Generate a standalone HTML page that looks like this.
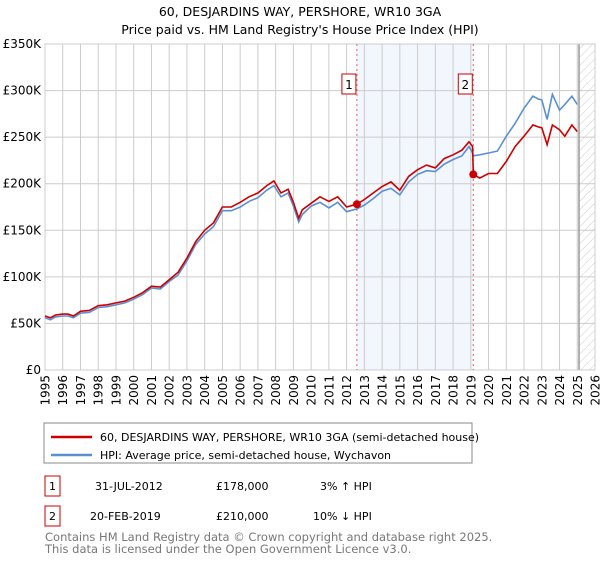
<!DOCTYPE html>
<html><head><meta charset="utf-8"><style>
body{margin:0;background:#fff;font-family:"Liberation Sans","DejaVu Sans",sans-serif;}
svg text{font-family:"DejaVu Sans","Liberation Sans",sans-serif;}
</style></head><body>
<svg id="chart" width="600" height="560" xmlns="http://www.w3.org/2000/svg">
<defs><pattern id="hatch" width="6" height="6" patternUnits="userSpaceOnUse" patternTransform="rotate(45)"><line x1="0" y1="0" x2="0" y2="6" stroke="#ccc" stroke-width="1"/></pattern></defs>
<text x="300" y="16" text-anchor="middle" font-size="12.5">60, DESJARDINS WAY, PERSHORE, WR10 3GA</text>
<text x="300" y="34" text-anchor="middle" font-size="12.5">Price paid vs. HM Land Registry's House Price Index (HPI)</text>
<g id="grid"></g><g id="marks"></g>
<rect x="44" y="423" width="428" height="40" fill="#fff" stroke="#888"/>
<line x1="51" y1="437" x2="92" y2="437" stroke="#cc0000" stroke-width="2.5"/>
<text x="100" y="441" font-size="11">60, DESJARDINS WAY, PERSHORE, WR10 3GA (semi-detached house)</text>
<line x1="51" y1="455" x2="92" y2="455" stroke="#5b8fd4" stroke-width="2.5"/>
<text x="100" y="459" font-size="11">HPI: Average price, semi-detached house, Wychavon</text>
<g font-size="11">
<rect x="45" y="476" width="15" height="20" fill="#fff" stroke="#cc0000"/><text x="52.5" y="490" text-anchor="middle">1</text>
<text x="95" y="490">31-JUL-2012</text><text x="216" y="490">£178,000</text><text x="320" y="490">3% ↑ HPI</text></g>
<g font-size="11">
<rect x="45" y="506" width="15" height="20" fill="#fff" stroke="#cc0000"/><text x="52.5" y="520" text-anchor="middle">2</text>
<text x="90" y="520">20-FEB-2019</text><text x="216" y="520">£210,000</text><text x="313" y="520">10% ↓ HPI</text></g>
<text x="45" y="541" font-size="11.5" fill="#777">Contains HM Land Registry data © Crown copyright and database right 2025.</text>
<text x="45" y="553" font-size="11.5" fill="#777">This data is licensed under the Open Government Licence v3.0.</text>
</svg>
<script>
const years=[1995,1995.3,1995.6,1996,1996.3,1996.6,1997,1997.5,1998,1998.5,1999,1999.5,2000,2000.5,2001,2001.5,2002,2002.5,2003,2003.5,2004,2004.5,2005,2005.5,2006,2006.5,2007,2007.5,2007.9,2008.3,2008.7,2009,2009.3,2009.5,2010,2010.5,2011,2011.5,2012,2012.58,2013,2013.5,2014,2014.5,2015,2015.5,2016,2016.5,2017,2017.5,2018,2018.5,2018.9,2019.1,2019.14,2019.5,2020,2020.5,2021,2021.5,2022,2022.5,2022.8,2023,2023.3,2023.6,2024,2024.3,2024.7,2025];
const priceSeries=[58,56,59,60,60,58,63,64,69,70,72,74,78,83,90,89,97,105,120,138,150,158,175,175,180,186,190,198,203,190,194,180,163,172,179,186,181,186,175,178,183,190,197,202,193,208,215,220,217,227,231,236,245,240,210,206,211,211,224,240,251,263,261,260,242,263,258,251,263,256];
const hpiSeries=[56,54,57,58,58,56,61,62,67,68,70,72,76,81,88,87,95,102,117,135,146,154,171,171,175,181,185,193,198,186,190,176,159,167,176,180,174,180,170,173,177,184,192,195,188,202,210,214,213,221,226,230,240,233,230,231,233,235,251,265,281,294,291,290,269,296,279,285,294,285];
const yTicks=[0,50,100,150,200,250,300,350];
const yTickLabels=["£0","£50K","£100K","£150K","£200K","£250K","£300K","£350K"];
const xTicks=[1995,1996,1997,1998,1999,2000,2001,2002,2003,2004,2005,2006,2007,2008,2009,2010,2011,2012,2013,2014,2015,2016,2017,2018,2019,2020,2021,2022,2023,2024,2025,2026];
const saleYears=[2012.58,2019.14];
const salePrices=[178,210];
const saleLabels=["1","2"];
const forecastStart=2025.1;
const L=45,R=595,T=44,B=370,X0=1995,X1=2026,YMAX=350;
const sx=v=>L+(v-X0)/(X1-X0)*(R-L);
const sy=v=>B-v/YMAX*(B-T);
const NS="http://www.w3.org/2000/svg";
function mk(tag,attrs,parent,txt){const e=document.createElementNS(NS,tag);for(const k in attrs)e.setAttribute(k,attrs[k]);if(txt!==undefined)e.textContent=txt;parent.appendChild(e);return e;}
const g=document.getElementById('grid'),m=document.getElementById('marks');
const shade=mk('rect',{x:sx(saleYears[0]),y:T,width:sx(saleYears[1])-sx(saleYears[0]),height:B-T,fill:'#f2f6fd'},g);


yTicks.forEach((t,i)=>{mk('line',{x1:L,x2:R,y1:sy(t),y2:sy(t),stroke:'#ccc'},g);
const tl=mk('text',{x:L-4,y:sy(t)+4,'text-anchor':'end','font-size':12},g,yTickLabels[i]);

});
xTicks.forEach(t=>{mk('line',{x1:sx(t),x2:sx(t),y1:T,y2:B,stroke:'#ccc'},g);
const tl=mk('text',{transform:`translate(${sx(t)+4.5},${B+5}) rotate(-90)`,'text-anchor':'end','font-size':12},g,String(t));

});
const hatch=mk('rect',{x:sx(forecastStart),y:T,width:R-sx(forecastStart),height:B-T,fill:'url(#hatch)'},g);


mk('line',{x1:sx(forecastStart),x2:sx(forecastStart),y1:T,y2:B,stroke:'#999','stroke-width':1.5},g);
mk('rect',{x:L,y:T,width:R-L,height:B-T,fill:'none',stroke:'#ccc'},g);
saleYears.forEach((yr,i)=>{const l=mk('line',{x1:sx(yr),x2:sx(yr),y1:T,y2:B,stroke:'#e06060','stroke-dasharray':'2,3'},m);

});
const pts=a=>a.map((v,i)=>sx(years[i]).toFixed(1)+','+sy(v).toFixed(1)).join(' ');
const hl=mk('polyline',{points:pts(hpiSeries),fill:'none',stroke:'#5b8fd4','stroke-width':1.6},m);


const pl=mk('polyline',{points:pts(priceSeries),fill:'none',stroke:'#cc0000','stroke-width':1.6},m);


saleYears.forEach((yr,i)=>{const c=mk('circle',{cx:sx(yr),cy:sy(salePrices[i]),r:4,fill:'#cc0000'},m);


const bx=mk('rect',{x:sx(yr)-15,y:74,width:14,height:20,fill:'#fff',stroke:'#cc0000'},m);


mk('text',{x:sx(yr)-8,y:89,'text-anchor':'middle','font-size':12},m,saleLabels[i]);});
</script>
</body></html>
